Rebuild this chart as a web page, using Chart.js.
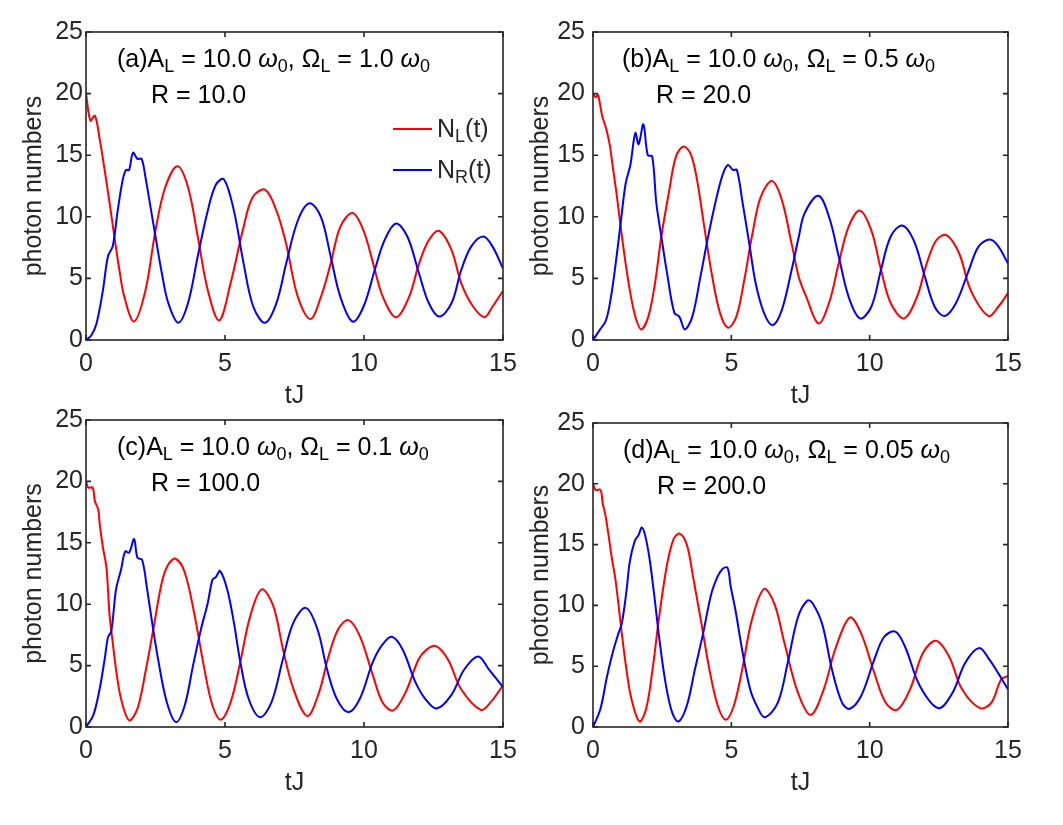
<!DOCTYPE html>
<html lang="en">
<head>
<meta charset="UTF-8">
<title>photon numbers vs tJ</title>
<script src="https://cdn.jsdelivr.net/npm/chart.js@4.4.0/dist/chart.umd.min.js"></script>
<style>
    body { margin: 0; background: #fff; }
    #wrap { position: relative; width: 1063px; height: 825px; overflow: hidden; background: #fff; }
    #wrap canvas { position: absolute; }
</style>
</head>
<body>
<div id="wrap">
    <canvas id="cA" width="531" height="420" style="left:0px;top:0px"></canvas>
    <canvas id="cB" width="543" height="420" style="left:520px;top:0px"></canvas>
    <canvas id="cC" width="531" height="425" style="left:0px;top:400px"></canvas>
    <canvas id="cD" width="543" height="425" style="left:520px;top:400px"></canvas>
</div>
<script>
// axis ticks
const tickX = [0, 5, 10, 15];
const tickY = [0, 5, 10, 15, 20, 25];

// panel texts
const panelTags = ['(a)', '(b)', '(c)', '(d)'];
const ampL = '10.0';
const omegaL = ['1.0', '0.5', '0.1', '0.05'];
const ratioR = ['10.0', '20.0', '100.0', '200.0'];

// (a) R = 10
const tLa = [0, 0.16, 0.32, 0.5, 0.67, 0.85, 1.02, 1.2, 1.38, 1.73, 2.14, 2.5, 2.85, 3.29, 3.67, 4.02, 4.38, 4.79, 5.2, 5.67, 6.0, 6.44, 6.85, 7.2, 7.62, 8.07, 8.45, 8.8, 9.15, 9.59, 9.98, 10.33, 10.68, 11.15, 11.62, 11.98, 12.33, 12.71, 13.15, 13.5, 13.9, 14.33, 14.62, 15];
const nLa = [20, 17.8, 18.2, 16.2, 13.8, 11.1, 8.4, 5.7, 3.5, 1.5, 4.05, 8.9, 12.4, 14.1, 12.4, 8.4, 4.05, 1.6, 4.6, 9.2, 11.6, 12.2, 10.5, 7.8, 3.5, 1.7, 3.5, 6.2, 9.2, 10.3, 8.9, 6.2, 3.5, 1.85, 3.5, 6.2, 8.1, 8.85, 7.3, 4.6, 2.8, 1.85, 2.7, 4.0];
const tRa = [0, 0.2, 0.38, 0.61, 0.79, 0.96, 1.14, 1.32, 1.44, 1.55, 1.69, 1.85, 2.0, 2.14, 2.32, 2.5, 2.73, 2.96, 3.32, 3.67, 4.02, 4.38, 4.67, 4.96, 5.32, 5.67, 6.02, 6.44, 6.85, 7.2, 7.62, 8.04, 8.45, 8.8, 9.15, 9.59, 9.98, 10.39, 10.74, 11.15, 11.56, 11.98, 12.33, 12.71, 13.15, 13.5, 13.86, 14.29, 14.62, 15];
const nRa = [0, 0.4, 1.35, 4.05, 6.8, 7.6, 10.5, 13, 13.8, 13.8, 15.2, 14.7, 14.7, 13.2, 10.8, 8.4, 5.4, 3.0, 1.4, 3.0, 6.8, 10.5, 12.6, 13.05, 10.5, 6.2, 2.7, 1.4, 3.0, 6.2, 9.7, 11.1, 10.0, 6.8, 3.5, 1.5, 2.7, 5.7, 8.1, 9.45, 8.4, 5.4, 3.0, 1.9, 3.0, 5.7, 7.6, 8.4, 7.6, 5.8];

// (b) R = 20
const tLb = [0, 0.1, 0.18, 0.24, 0.33, 0.47, 0.6, 0.7, 0.82, 1.0, 1.18, 1.35, 1.53, 1.74, 2.0, 2.24, 2.47, 2.76, 3.0, 3.27, 3.53, 3.76, 4.0, 4.29, 4.59, 4.88, 5.18, 5.47, 5.76, 6.06, 6.47, 6.82, 7.18, 7.44, 7.71, 8.15, 8.53, 8.88, 9.24, 9.65, 10.06, 10.41, 10.76, 11.24, 11.71, 12.06, 12.41, 12.79, 13.24, 13.65, 14.29, 14.65, 15];
const nLb = [20, 19.7, 19.9, 19.3, 18.2, 17.2, 15.9, 14.3, 12.4, 9.2, 6.2, 3.8, 1.9, 0.86, 1.9, 4.6, 8.4, 12.2, 14.9, 15.7, 15.1, 13.0, 9.5, 5.4, 2.2, 1.0, 1.9, 4.9, 8.6, 11.6, 12.9, 11.4, 7.8, 5.1, 3.5, 1.35, 3.0, 6.2, 9.2, 10.5, 8.9, 5.7, 3.0, 1.75, 3.5, 6.2, 8.1, 8.5, 7.0, 4.05, 1.95, 2.7, 3.8];
const tRb = [0, 0.24, 0.47, 0.65, 0.82, 1.0, 1.18, 1.35, 1.53, 1.65, 1.82, 1.98, 2.14, 2.29, 2.47, 2.7, 2.94, 3.12, 3.32, 3.59, 3.88, 4.18, 4.47, 4.7, 4.88, 5.06, 5.2, 5.41, 5.65, 5.88, 6.18, 6.49, 6.82, 7.18, 7.44, 7.65, 8.15, 8.53, 8.88, 9.24, 9.65, 10.06, 10.41, 10.76, 11.18, 11.59, 12.0, 12.35, 12.71, 13.12, 13.59, 13.94, 14.35, 14.65, 15];
const nRb = [0, 0.8, 1.6, 3.5, 6.2, 9.5, 12.7, 14.2, 16.8, 15.9, 17.5, 15.0, 14.9, 11.1, 8.4, 5.1, 2.2, 1.9, 0.86, 1.9, 5.1, 8.6, 11.6, 13.5, 14.2, 13.8, 13.8, 11.1, 7.8, 4.6, 2.2, 1.2, 2.4, 5.7, 8.4, 10.3, 11.7, 10.0, 6.8, 3.5, 1.75, 2.7, 5.7, 8.4, 9.3, 8.1, 5.1, 2.7, 1.95, 3.0, 5.7, 7.6, 8.15, 7.6, 6.2];

// (c) R = 100
const tLc = [0, 0.08, 0.24, 0.32, 0.44, 0.49, 0.61, 0.73, 0.79, 0.85, 0.96, 1.08, 1.26, 1.55, 1.85, 2.14, 2.44, 2.73, 2.95, 3.22, 3.55, 3.91, 4.26, 4.55, 4.85, 5.2, 5.55, 5.91, 6.32, 6.73, 7.08, 7.46, 7.96, 8.38, 8.73, 9.08, 9.44, 9.85, 10.32, 10.67, 11.05, 11.49, 11.96, 12.25, 12.58, 13.02, 13.49, 14.2, 14.55, 15];
const nLc = [20, 19.5, 19.5, 18.4, 17.7, 16.6, 14.6, 13.1, 11.2, 9.05, 6.9, 4.7, 2.3, 0.55, 1.5, 4.5, 8.2, 11.8, 13.2, 13.7, 12.6, 9.05, 4.7, 1.75, 0.6, 2.0, 5.3, 9.05, 11.2, 9.9, 6.4, 3.1, 0.9, 2.8, 5.8, 8.0, 8.7, 7.4, 4.2, 2.0, 1.35, 2.8, 5.5, 6.3, 6.6, 5.5, 3.1, 1.4, 2.0, 3.4];
const tRc = [0, 0.26, 0.49, 0.67, 0.79, 0.91, 1.08, 1.26, 1.41, 1.55, 1.73, 1.85, 2.02, 2.2, 2.38, 2.61, 2.91, 3.24, 3.55, 3.85, 4.14, 4.38, 4.55, 4.67, 4.82, 5.08, 5.32, 5.55, 5.85, 6.26, 6.67, 7.08, 7.46, 7.91, 8.32, 8.67, 9.02, 9.44, 9.85, 10.32, 10.66, 11.0, 11.38, 11.85, 12.2, 12.61, 13.14, 13.61, 14.11, 14.49, 15];
const nRc = [0, 0.95, 3.1, 5.5, 7.3, 7.8, 11.2, 12.8, 14.3, 14.2, 15.3, 13.8, 13.6, 11.2, 8.5, 5.3, 2.0, 0.4, 1.75, 5.0, 8.0, 10.1, 12.0, 12.2, 12.7, 11.2, 8.5, 5.3, 2.3, 0.8, 2.0, 5.5, 8.5, 9.7, 8.0, 4.7, 2.3, 1.2, 2.3, 5.3, 6.7, 7.35, 6.35, 3.65, 2.3, 1.5, 2.6, 4.7, 5.75, 4.7, 3.25];

// (d) R = 200
const tLd = [0, 0.09, 0.27, 0.35, 0.45, 0.56, 0.68, 0.8, 0.92, 1.04, 1.21, 1.39, 1.68, 1.92, 2.15, 2.39, 2.68, 2.92, 3.13, 3.39, 3.62, 3.92, 4.21, 4.51, 4.8, 5.09, 5.39, 5.74, 6.18, 6.56, 6.92, 7.41, 7.87, 8.34, 8.75, 9.28, 9.69, 10.16, 10.58, 10.99, 11.46, 11.93, 12.4, 12.87, 13.34, 13.99, 14.4, 14.75, 15];
const nLd = [20, 19.5, 19.5, 18.4, 17.4, 15.8, 13.9, 12.3, 10.1, 7.7, 4.7, 2.3, 0.45, 1.5, 4.7, 9.05, 13.4, 15.5, 15.9, 15.0, 12.3, 8.5, 4.7, 1.75, 0.6, 1.75, 4.7, 8.8, 11.35, 10.1, 6.9, 2.8, 1.0, 3.1, 6.35, 9.0, 7.7, 4.5, 2.0, 1.4, 3.1, 6.1, 7.1, 5.8, 3.1, 1.55, 2.0, 3.9, 4.2];
const tRd = [0, 0.27, 0.51, 0.74, 0.92, 1.04, 1.21, 1.33, 1.51, 1.65, 1.76, 1.88, 2.04, 2.21, 2.39, 2.62, 2.86, 3.09, 3.39, 3.68, 3.98, 4.27, 4.51, 4.68, 4.86, 4.98, 5.15, 5.39, 5.68, 5.95, 6.21, 6.68, 7.04, 7.41, 7.75, 7.93, 8.28, 8.64, 9.0, 9.28, 9.69, 10.16, 10.52, 10.93, 11.28, 11.81, 12.49, 12.99, 13.46, 13.96, 14.34, 14.64, 15];
const nRd = [0, 1.5, 4.2, 6.35, 7.7, 8.5, 11.2, 13.6, 15.3, 15.8, 16.4, 15.8, 13.9, 10.9, 7.4, 3.65, 1.2, 0.45, 1.75, 4.7, 7.7, 10.9, 12.4, 13.0, 13.1, 11.5, 9.6, 6.35, 3.1, 1.6, 0.8, 2.0, 5.3, 9.05, 10.4, 10.2, 8.5, 4.7, 2.0, 1.5, 2.55, 5.5, 7.4, 7.85, 6.6, 3.4, 1.55, 2.8, 5.3, 6.5, 5.5, 4.45, 3.1];

const FONT = '"Liberation Sans", Arial, sans-serif';
const INK = '#262626';

function pts(t, n) {
    return t.map((v, i) => ({ x: v, y: n[i] }));
}

// draws text pieces: n = normal, s = subscript, i = italic
function drawRich(ctx, x, y, parts) {
    let cx = x;
    parts.forEach(([txt, kind]) => {
        let size = 25, dy = 0, style = '';
        if (kind === 's') { size = 18; dy = 5; }
        if (kind === 'i') { style = 'italic '; }
        ctx.font = style + size + 'px ' + FONT;
        ctx.fillText(txt, cx, y + dy);
        cx += ctx.measureText(txt).width;
    });
}

const framePlugin = {
    id: 'frame',
    afterDatasetsDraw(chart) {
        const { ctx, chartArea: { left, top, right, bottom }, scales: { x, y } } = chart;
        const len = 5;
        ctx.save();
        ctx.strokeStyle = INK;
        ctx.lineWidth = 1.6;
        ctx.beginPath();
        x.ticks.forEach(t => {
            const px = x.getPixelForValue(t.value);
            ctx.moveTo(px, bottom); ctx.lineTo(px, bottom - len);
            ctx.moveTo(px, top); ctx.lineTo(px, top + len);
        });
        y.ticks.forEach(t => {
            const py = y.getPixelForValue(t.value);
            ctx.moveTo(left, py); ctx.lineTo(left + len, py);
            ctx.moveTo(right, py); ctx.lineTo(right - len, py);
        });
        ctx.stroke();
        ctx.strokeRect(left, top, right - left, bottom - top);
        ctx.restore();
    },
    afterDraw(chart, args, opts) {
        const { ctx, chartArea: { left, top } } = chart;
        const k = opts.index;
        ctx.save();
        ctx.fillStyle = '#000';
        ctx.textBaseline = 'alphabetic';
        ctx.textAlign = 'left';
        drawRich(ctx, left + opts.textX, top + 35, [
            [panelTags[k], 'n'], ['A', 'n'], ['L', 's'], [' = ' + ampL + ' ', 'n'], ['\u03C9', 'i'], ['0', 's'],
            [', ', 'n'], ['\u03A9', 'n'], ['L', 's'], [' = ' + omegaL[k] + ' ', 'n'], ['\u03C9', 'i'], ['0', 's']
        ]);
        drawRich(ctx, left + opts.textX + 34, top + 71, [['R = ' + ratioR[k], 'n']]);
        if (opts.legend) {
            const rows = [['#ff0000', 'L', 97], ['#0000ff', 'R', 138]];
            rows.forEach(([col, sub, dy]) => {
                ctx.strokeStyle = col;
                ctx.lineWidth = 2;
                ctx.beginPath();
                ctx.moveTo(left + 307, top + dy);
                ctx.lineTo(left + 346, top + dy);
                ctx.stroke();
                ctx.fillStyle = INK;
                drawRich(ctx, left + 351, top + dy + 8, [['N', 'n'], [sub, 's'], ['(t)', 'n']]);
            });
        }
        ctx.restore();
    }
};

const panels = [
    { id: 'cA', nL: pts(tLa, nLa), nR: pts(tRa, nRa), padTop: 32, padRight: 28, yW: 86, xH: 80, yTickPad: 3, yTitlePad: 19, xTitlePad: 9, textX: 31, legend: true },
    { id: 'cB', nL: pts(tLb, nLb), nR: pts(tRb, nRb), padTop: 32, padRight: 55, yW: 73, xH: 80, yTickPad: 8, yTitlePad: 6, xTitlePad: 9, textX: 29, legend: false },
    { id: 'cC', nL: pts(tLc, nLc), nR: pts(tRc, nRc), padTop: 20, padRight: 28, yW: 86, xH: 98, yTickPad: 3, yTitlePad: 19, xTitlePad: 27, textX: 31, legend: false },
    { id: 'cD', nL: pts(tLd, nLd), nR: pts(tRd, nRd), padTop: 20, padRight: 55, yW: 73, xH: 98, yTickPad: 8, yTitlePad: 6, xTitlePad: 27, textX: 30, legend: false }
];

panels.forEach((p, k) => {
    const ctx = document.getElementById(p.id).getContext('2d');
    new Chart(ctx, {
        type: 'line',
        data: {
            datasets: [
                { label: 'N_R(t)', data: p.nR, borderColor: '#0000ff' },
                { label: 'N_L(t)', data: p.nL, borderColor: '#ff0000' }
            ]
        },
        options: {
            responsive: false,
            animation: false,
            events: [],
            layout: { padding: { top: p.padTop, right: p.padRight, left: 0, bottom: 0 } },
            elements: {
                point: { radius: 0 },
                line: { borderWidth: 2, tension: 0.35, fill: false }
            },
            plugins: {
                legend: { display: false },
                tooltip: { enabled: false },
                frame: { index: k, textX: p.textX, legend: p.legend }
            },
            scales: {
                x: {
                    type: 'linear',
                    min: 0,
                    max: 15,
                    afterBuildTicks: s => { s.ticks = tickX.map(v => ({ value: v })); },
                    afterFit: s => { s.height = p.xH; },
                    grid: { display: false, drawTicks: false },
                    border: { display: false },
                    ticks: { padding: 9, color: INK, font: { family: FONT, size: 25 }, maxRotation: 0 },
                    title: { display: true, text: 'tJ', color: INK, font: { family: FONT, size: 25 }, padding: { top: 0, bottom: p.xTitlePad } }
                },
                y: {
                    type: 'linear',
                    min: 0,
                    max: 25,
                    afterBuildTicks: s => { s.ticks = tickY.map(v => ({ value: v })); },
                    afterFit: s => { s.width = p.yW; },
                    grid: { display: false, drawTicks: false },
                    border: { display: false },
                    ticks: { padding: p.yTickPad, color: INK, font: { family: FONT, size: 25 } },
                    title: { display: true, text: 'photon numbers', color: INK, font: { family: FONT, size: 25 }, padding: { top: p.yTitlePad, bottom: 0 } }
                }
            }
        },
        plugins: [framePlugin]
    });
});
</script>
</body>
</html>
